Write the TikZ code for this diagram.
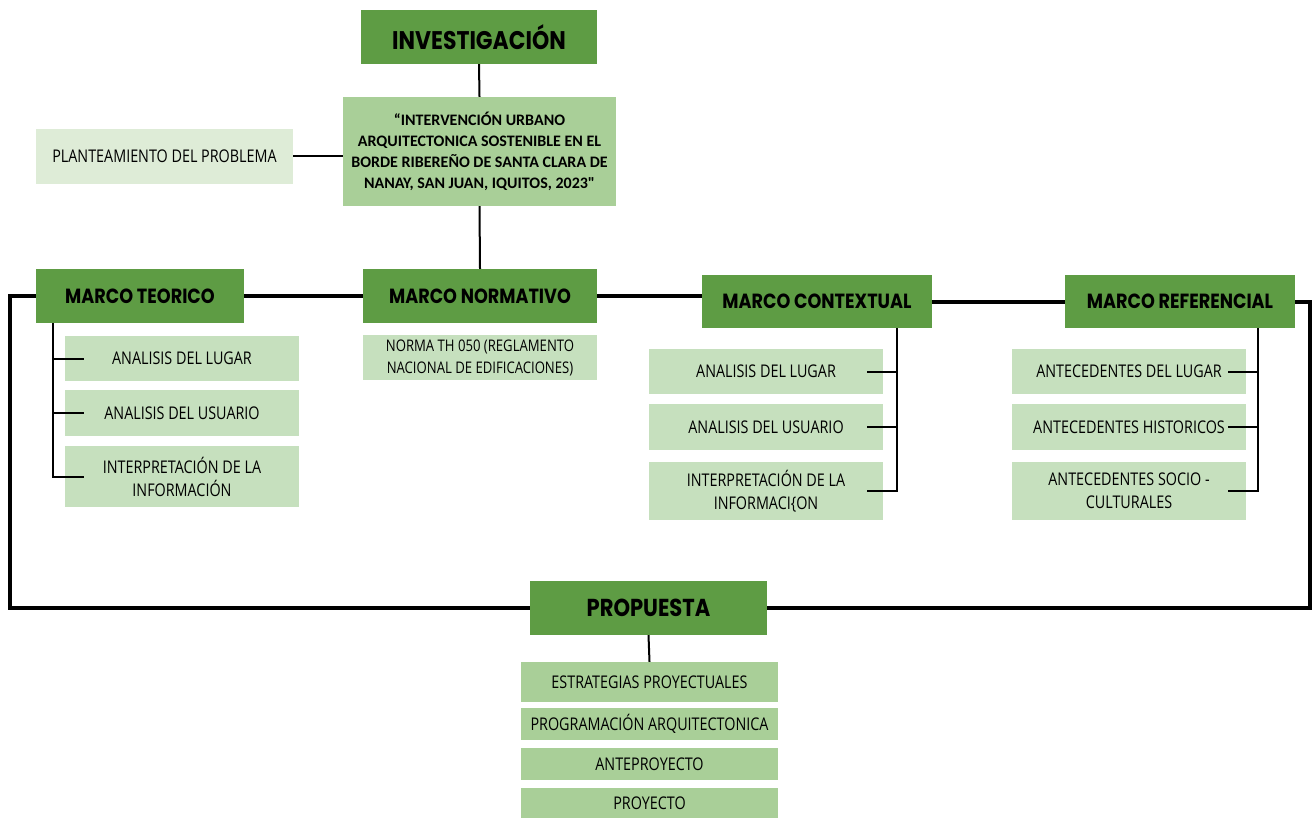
\documentclass[tikz,border=0pt]{standalone}
\usepackage{fontspec}
\setmainfont[FakeStretch=0.82]{Open Sans}
\newfontfamily\headfont[FakeStretch=0.86]{Poppins}
\newfontfamily\titlefont{Carlito}
\definecolor{verdeosc}{RGB}{94,156,68}
\definecolor{verdemed}{RGB}{169,207,152}
\definecolor{verdecla}{RGB}{198,224,190}
\definecolor{verdepal}{RGB}{222,236,215}

\begin{document}
\begin{tikzpicture}[x=1pt, y=-1pt,
  every node/.style={inner sep=0pt, align=center},
  cabeza/.style={fill=verdeosc, minimum height=54pt, font=\headfont\bfseries\fontsize{20.5}{22}\selectfont},
  caja/.style={fill=verdecla, minimum width=234pt, font=\fontsize{17.5}{23}\selectfont},
  cajaprop/.style={fill=verdemed, minimum width=257pt, font=\fontsize{17.5}{23}\selectfont},
  linea/.style={line width=2pt, black},
  lazo/.style={line width=4pt, black}]

\useasboundingbox (0,0) rectangle (1316,818);

\node[cabeza, minimum width=236pt, font=\headfont\bfseries\fontsize{25.5}{26}\selectfont] (inv) at (479,37) {INVESTIGACIÓN};
\node[fill=verdemed, minimum width=273pt, minimum height=109pt, font=\titlefont\bfseries\fontsize{16}{21}\selectfont] (tit) at (479.5,151.5)
  {“INTERVENCIÓN URBANO\\ARQUITECTONICA SOSTENIBLE EN EL\\BORDE RIBEREÑO DE SANTA CLARA DE\\NANAY, SAN JUAN, IQUITOS, 2023"};
\node[caja, fill=verdepal, minimum width=257pt, minimum height=55pt] (plan) at (164.5,156.5) {PLANTEAMIENTO DEL PROBLEMA};

\node[cabeza, minimum width=208pt] (teo) at (140,296) {MARCO TEORICO};
\node[cabeza, minimum width=234pt] (nor) at (480,296) {MARCO NORMATIVO};
\node[cabeza, minimum width=230pt, minimum height=53pt] (con) at (817,301.5) {MARCO CONTEXTUAL};
\node[cabeza, minimum width=230pt, minimum height=53pt] (ref) at (1180,301.5) {MARCO REFERENCIAL};
\node[cabeza, minimum width=237pt, font=\headfont\bfseries\fontsize{24.5}{26}\selectfont] (prop) at (648.5,608) {PROPUESTA};

\node[caja, minimum height=45pt] (t1) at (182,358.5) {ANALISIS DEL LUGAR};
\node[caja, minimum height=46pt] (t2) at (182,413) {ANALISIS DEL USUARIO};
\node[caja, minimum height=61pt] (t3) at (182,476.5) {INTERPRETACIÓN DE LA\\INFORMACIÓN};

\node[caja, minimum height=45pt, font=\fontsize{16}{22}\selectfont] (n1) at (480,357.5) {NORMA TH 050 (REGLAMENTO\\NACIONAL DE EDIFICACIONES)};

\node[caja, minimum height=45pt] (c1) at (766,371.5) {ANALISIS DEL LUGAR};
\node[caja, minimum height=46pt] (c2) at (766,427) {ANALISIS DEL USUARIO};
\node[caja, minimum height=58pt] (c3) at (766,491) {INTERPRETACIÓN DE LA\\INFORMACI\{ON};

\node[caja, minimum height=45pt] (r1) at (1129,371.5) {ANTECEDENTES DEL LUGAR};
\node[caja, minimum height=46pt] (r2) at (1129,427) {ANTECEDENTES HISTORICOS};
\node[caja, minimum height=58pt] (r3) at (1129,491) {ANTECEDENTES SOCIO -\\CULTURALES};

\node[cajaprop, minimum height=40pt] (p1) at (649.5,682) {ESTRATEGIAS PROYECTUALES};
\node[cajaprop, minimum height=32pt] (p2) at (649.5,724) {PROGRAMACIÓN ARQUITECTONICA};
\node[cajaprop, minimum height=32pt] (p3) at (649.5,764) {ANTEPROYECTO};
\node[cajaprop, minimum height=30pt] (p4) at (649.5,803) {PROYECTO};

\draw[linea] (inv.south) -- (tit.north);
\draw[linea] (plan.east) -- (plan.east -| tit.west);
\draw[linea] (tit.south) -- (nor.north);
\draw[linea] (prop.south) -- (p1.north);

\draw[lazo] (teo.east) -- (nor.west);
\draw[lazo] (nor.east) -- (nor.east -| con.west);
\draw[lazo] (con.east) -- (ref.west);
\draw[lazo] (teo.west) -- ++(-26,0) |- (prop.west);
\draw[lazo] (ref.east) -- ++(15,0) |- (prop.east);

\coordinate (teoeje) at ([xshift=17pt]teo.south west);
\draw[linea] (teoeje) |- ([xshift=19pt]t3.west);
\draw[linea] (teoeje |- t1.west) -- ([xshift=19pt]t1.west);
\draw[linea] (teoeje |- t2.west) -- ([xshift=19pt]t2.west);

\coordinate (coneje) at ([xshift=-35pt]con.south east);
\draw[linea] (coneje) |- ([xshift=-16pt]c3.east);
\draw[linea] (coneje |- c1.east) -- ([xshift=-16pt]c1.east);
\draw[linea] (coneje |- c2.east) -- ([xshift=-16pt]c2.east);

\coordinate (refeje) at ([xshift=-37pt]ref.south east);
\draw[linea] (refeje) |- ([xshift=-18pt]r3.east);
\draw[linea] (refeje |- r1.east) -- ([xshift=-18pt]r1.east);
\draw[linea] (refeje |- r2.east) -- ([xshift=-18pt]r2.east);

\end{tikzpicture}
\end{document}
